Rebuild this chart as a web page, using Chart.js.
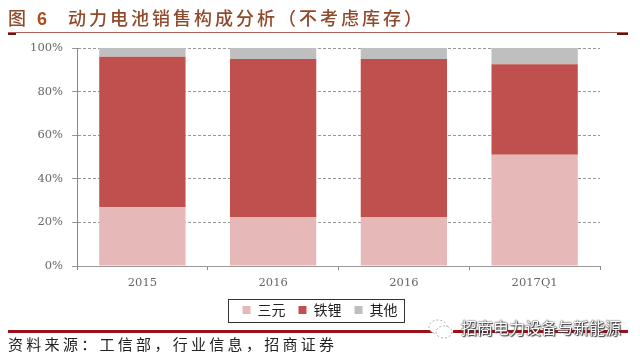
<!DOCTYPE html>
<html>
<head>
<meta charset="utf-8">
<script src="https://cdn.jsdelivr.net/npm/chart.js@4"></script>
<style>
    html, body { margin: 0; padding: 0; background: #fff; }
    #wrap { position: relative; width: 640px; height: 356px; overflow: hidden; font-family: "Noto Sans CJK SC", sans-serif; }
    #wrap canvas { position: absolute; left: 0; top: 0; }
    .abs { position: absolute; white-space: nowrap; }
    #title { left: 8px; top: 4px; font-size: 18px; line-height: 26px; letter-spacing: 3px; font-weight: 500; color: #8f4a2c; }
    #title b { font-family: "Liberation Sans", sans-serif; font-size: 18px; color: #a8501e; margin: 0 18px 0 8px; }
    #ruleTop { left: 8px; top: 32px; width: 620px; height: 1px; background: #a8605a; }
    #capL { left: 8px; top: 33px; width: 8px; height: 2px; background: #7a1010; }
    #capR { left: 617px; top: 33px; width: 11px; height: 2px; background: #5a1515; }
    #ruleBottom { left: 8px; top: 330px; width: 425px; height: 3px; background: #9c1218; }
    #ruleBottom2 { left: 453px; top: 330px; width: 175px; height: 3px; background: #9c1218; }
    #legendBox { left: 228px; top: 299px; width: 175px; height: 22px; border: 1px solid #333; }
    #source { left: 8px; top: 334px; font-size: 15px; line-height: 20px; letter-spacing: 3.3px; color: #222; }
    #mark { left: 461px; top: 316px; font-size: 16px; line-height: 22px; color: #fff; text-shadow: 0 0 1px #333, 0 0 2px #333, 1px 1px 1px #444; }
    #icon { left: 426px; top: 317px; }
</style>
</head>
<body>
<div id="wrap">
    <canvas id="mixChart" width="640" height="356"></canvas>
    <div class="abs" id="title">图<b>6</b>动力电池销售构成分析（不考虑库存）</div>
    <div class="abs" id="ruleTop"></div>
    <div class="abs" id="capL"></div>
    <div class="abs" id="capR"></div>
    <div class="abs" id="legendBox"></div>
    <div class="abs" id="ruleBottom"></div>
    <div class="abs" id="ruleBottom2"></div>
    <div class="abs" id="source">资料来源：工信部，行业信息，招商证券</div>
    <svg class="abs" id="icon" width="30" height="24">
        <ellipse cx="12" cy="10" rx="9" ry="7" fill="#fff" stroke="#aaa" stroke-dasharray="2 2"/>
        <ellipse cx="18" cy="15" rx="8" ry="6" fill="#fff" stroke="#aaa" stroke-dasharray="2 2"/>
    </svg>
    <div class="abs" id="mark">招商电力设备与新能源</div>
</div>
<script>
const categories = ['2015', '2016', '2016', '2017Q1'];
const ternary = [27, 22.5, 22.5, 51];
const lfp = [69, 72.5, 72.5, 41.5];
const others = [4, 5, 5, 7.5];

const tickFont = { family: '"DejaVu Serif", serif', size: 11.5 };

new Chart(document.getElementById('mixChart'), {
    type: 'bar',
    data: {
        labels: categories,
        datasets: [
            { label: '三元', data: ternary, backgroundColor: '#E6B9B8' },
            { label: '铁锂', data: lfp, backgroundColor: '#C0504D' },
            { label: '其他', data: others, backgroundColor: '#BFBFBF' }
        ]
    },
    options: {
        responsive: false,
        animation: false,
        barPercentage: 0.66,
        categoryPercentage: 1,
        layout: {
            padding: { top: 48, right: 0, bottom: 29, left: 0 }
        },
        scales: {
            x: {
                stacked: true,
                afterFit: (scale) => { scale.height = 24; },
                border: { color: '#999999' },
                grid: { drawOnChartArea: false, tickLength: 4, color: '#888888' },
                ticks: { color: '#666666', font: tickFont, padding: 6, maxRotation: 0 }
            },
            y: {
                stacked: true,
                min: 0,
                max: 100,
                afterFit: (scale) => { scale.width = 77; },
                border: { color: '#888888', dash: [3, 2] },
                grid: { color: '#999999', tickLength: 5, tickBorderDash: [] },
                ticks: {
                    stepSize: 20,
                    color: '#666666',
                    font: tickFont,
                    padding: 9,
                    callback: (value) => `${value}%`
                }
            },
            // empty axis, only holds the right margin so the legend stays centred on the page
            spacer: {
                position: 'right',
                afterFit: (scale) => { scale.width = 40; },
                border: { display: false },
                grid: { display: false },
                ticks: { display: false }
            }
        },
        plugins: {
            title: { display: false },
            tooltip: { enabled: false },
            legend: {
                display: true,
                position: 'bottom',
                labels: {
                    boxWidth: 8,
                    boxHeight: 8,
                    padding: 13,
                    color: '#222222',
                    font: { family: '"Noto Sans CJK SC", sans-serif', size: 14 }
                }
            }
        }
    }
});
</script>
</body>
</html>
